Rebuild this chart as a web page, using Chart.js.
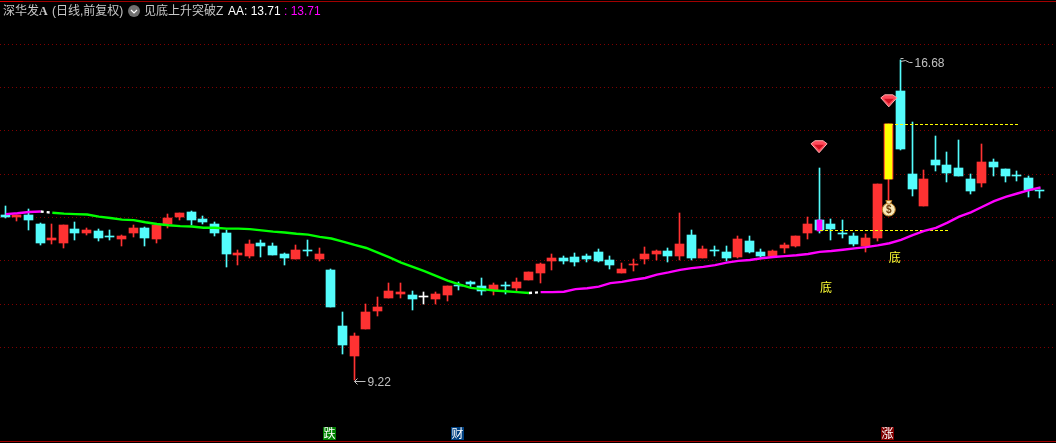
<!DOCTYPE html>
<html>
<head>
<meta charset="utf-8">
<title>深华发A</title>
<script src="https://cdn.jsdelivr.net/npm/chart.js@4"></script>
<style>
  html, body { margin: 0; padding: 0; background: #000; overflow: hidden; }
  #wrap { position: relative; width: 1056px; height: 443px; overflow: hidden; }
  #trendChart { position: absolute; left: 0; top: 0; }
  .head { position: absolute; top: 3px; font: 12px/16px "Liberation Sans", "Noto Sans CJK SC", sans-serif; color: #c8c8c8; white-space: nowrap; }
</style>
</head>
<body>
<div id="wrap">
  <canvas id="trendChart" width="1058" height="443"></canvas>
  <span class="head" style="left:3px">深华发</span>
  <span class="head" style="left:39px;font-weight:bold;font-family:'Liberation Serif'">A</span>
  <span class="head" style="left:52px">(日线,前复权)</span>
  <span class="head" style="left:144px">见底上升突破Z</span>
  <span class="head" style="left:228px;color:#fff">AA: 13.71</span>
  <span class="head" style="left:284px;color:#ff00ff">: 13.71</span>
</div>
<script>
// candles, one entry per trading day
const opens = [13.07, 13.02, 13.07, 12.86, 12.49, 12.42, 12.74, 12.65, 12.69, 12.58,
  12.51, 12.65, 12.77, 12.51, 12.86, 13.02, 13.14, 12.98, 12.86, 12.65,
  12.14, 12.11, 12.42, 12.35, 12.16, 12.04, 12.25, 12.04, 11.79, 10.48,
  9.78, 10.41, 10.83, 11.13, 11.23, 11.20, 11.15, 11.11, 11.20, 11.44,
  11.51, 11.41, 11.32, 11.44, 11.37, 11.55, 11.72, 12.00, 12.07, 12.09,
  12.11, 12.21, 12.02, 11.72, 11.90, 12.04, 12.16, 12.23, 12.11, 12.60,
  12.07, 12.24, 12.21, 12.09, 12.46, 12.21, 12.11, 12.30, 12.35, 12.65,
  12.95, 12.86, 12.65, 12.58, 12.35, 12.53, 13.91, 15.96, 14.02, 13.28,
  14.35, 14.23, 14.16, 13.91, 13.81, 14.30, 14.14, 14.00, 13.93, 13.65];
const closes = [13.02, 13.07, 12.95, 12.42, 12.53, 12.84, 12.65, 12.72, 12.53, 12.56,
  12.58, 12.77, 12.53, 12.84, 13.00, 13.11, 12.95, 12.91, 12.65, 12.16,
  12.18, 12.39, 12.35, 12.14, 12.07, 12.25, 12.23, 12.16, 10.92, 10.04,
  10.25, 10.81, 10.92, 11.30, 11.27, 11.11, 11.15, 11.23, 11.41, 11.41,
  11.46, 11.30, 11.44, 11.42, 11.51, 11.74, 11.93, 12.07, 12.00, 11.97,
  12.04, 12.00, 11.90, 11.81, 11.92, 12.16, 12.23, 12.11, 12.39, 12.07,
  12.28, 12.22, 12.07, 12.51, 12.21, 12.11, 12.23, 12.37, 12.58, 12.86,
  12.72, 12.74, 12.63, 12.39, 12.53, 13.79, 15.19, 14.61, 13.67, 13.91,
  14.23, 14.05, 13.98, 13.63, 14.30, 14.19, 13.98, 13.98, 13.65, 13.63];
const highs = [13.28, 13.07, 13.21, 12.88, 12.86, 12.84, 12.91, 12.77, 12.74, 12.72,
  12.60, 12.84, 12.79, 12.84, 13.09, 13.11, 13.16, 13.05, 12.91, 12.72,
  12.25, 12.49, 12.49, 12.42, 12.18, 12.37, 12.49, 12.30, 11.81, 10.81,
  10.32, 10.99, 11.16, 11.48, 11.48, 11.30, 11.27, 11.27, 11.41, 11.51,
  11.53, 11.60, 11.48, 11.51, 11.60, 11.74, 11.95, 12.16, 12.11, 12.18,
  12.16, 12.28, 12.11, 11.95, 12.04, 12.32, 12.25, 12.30, 13.11, 12.72,
  12.35, 12.35, 12.35, 12.58, 12.58, 12.28, 12.25, 12.42, 12.58, 13.02,
  14.16, 12.98, 12.95, 12.65, 12.63, 13.79, 15.19, 16.68, 15.24, 14.12,
  14.91, 14.54, 14.82, 14.02, 14.72, 14.37, 14.14, 14.09, 13.98, 13.65];
const lows = [13.00, 12.93, 12.72, 12.37, 12.39, 12.30, 12.49, 12.60, 12.46, 12.49,
  12.35, 12.56, 12.35, 12.42, 12.77, 12.95, 12.84, 12.86, 12.58, 11.86,
  11.90, 12.07, 12.09, 12.14, 11.90, 12.04, 12.11, 12.00, 10.92, 9.83,
  9.22, 10.41, 10.71, 11.13, 11.13, 10.85, 10.99, 10.99, 11.06, 11.32,
  11.39, 11.20, 11.20, 11.23, 11.27, 11.55, 11.48, 11.79, 11.93, 11.88,
  11.97, 11.97, 11.81, 11.72, 11.76, 11.93, 12.02, 11.97, 12.02, 12.02,
  12.07, 12.11, 12.00, 12.07, 12.18, 12.09, 12.11, 12.18, 12.32, 12.51,
  12.65, 12.49, 12.53, 12.35, 12.21, 12.46, 13.35, 14.58, 13.51, 13.28,
  14.09, 13.84, 13.98, 13.56, 13.72, 13.98, 13.84, 13.86, 13.49, 13.46];

// AA line
const maValues = [13.09, 13.11, 13.14, 13.15, 13.12, 13.10, 13.09, 13.08, 13.03, 13.00,
  12.96, 12.95, 12.90, 12.86, 12.83, 12.81, 12.80, 12.77, 12.77, 12.75,
  12.75, 12.74, 12.71, 12.68, 12.66, 12.63, 12.61, 12.56, 12.52, 12.45,
  12.37, 12.30, 12.19, 12.08, 11.96, 11.86, 11.76, 11.65, 11.54, 11.45,
  11.37, 11.34, 11.31, 11.29, 11.27, 11.25, 11.27, 11.27, 11.28, 11.34,
  11.36, 11.40, 11.48, 11.51, 11.56, 11.60, 11.68, 11.73, 11.79, 11.83,
  11.86, 11.90, 11.96, 12.00, 12.02, 12.06, 12.09, 12.11, 12.13, 12.16,
  12.21, 12.23, 12.26, 12.29, 12.32, 12.36, 12.41, 12.49, 12.60, 12.70,
  12.77, 12.89, 13.03, 13.13, 13.26, 13.39, 13.49, 13.57, 13.65, 13.71];

const gridPrices = [17.05, 16.03, 15.03, 14.02, 13.02, 12.00, 10.99, 9.99];
const dashHigh = [[76.05, 15.178], [87.15, 15.178]];
const dashLow = [[70.03, 12.707], [81.21, 12.707]];
const signalBars = [{ day: 70, from: 12.70, to: 12.95, color: "#ff00ff", width: 5 }, { day: 76, from: 13.91, to: 15.19, color: "#ffff00", width: 7 }];
const bottomWords = [{ day: 70, price: 11.37, dx: 7 }, { day: 76, price: 12.07, dx: 6 }];
const diamonds = [{ day: 70, price: 14.66 }, { day: 76, price: 15.73 }];
const moneyBag = { day: 76, price: 13.23 };
const tags = [{ day: 28, text: "跌", color: "#008000" }, { day: 39, text: "财", color: "#004080" }, { day: 76, text: "涨", color: "#800000" }];

const RED = "#ff3232";
const CYAN = "#54fcfc";
const labels = Array.from({ length: 91 }, (_, i) => i);
const X_SHIFT = 0.6; // bars sit a little left of the category centres

function candleColor(ctx) {
  const i = ctx.dataIndex;
  if (closes[i] > opens[i]) return RED;
  if (closes[i] < opens[i]) return CYAN;
  return "#ffffff";
}

// the line changes colour as the trend changes, white dashes at the turns
function maColor(ctx) {
  const i = ctx.p0DataIndex;
  if (i === 3 || i === 45) return "#ffffff";
  if (i < 3 || i > 45) return "#ff00ff";
  return "#00ff00";
}

function toPoints(pair) {
  return pair.map((p) => ({ x: p[0], y: p[1] }));
}

// keep the bars on whole pixels, otherwise the 1px wicks go blurry
const snapBars = {
  id: "snapBars",
  afterDatasetsUpdate(chart) {
    chart.data.datasets.forEach((ds, n) => {
      if (ds.type !== "bar") return;
      chart.getDatasetMeta(n).data.forEach((el) => {
        if (el.skip) return;
        el.x = Math.floor(el.x - X_SHIFT) + 0.5;
        el.y = Math.round(el.y);
        el.base = Math.round(el.base);
        if (el.base === el.y) el.base = el.y + 1;
      });
    });
  }
};

function drawDiamond(c, x, y) {
  c.save();
  c.translate(x, y);
  c.beginPath();
  c.moveTo(-8, -3);
  c.lineTo(-4, -6);
  c.lineTo(4, -6);
  c.lineTo(8, -3);
  c.lineTo(0, 6);
  c.closePath();
  c.fillStyle = "#ff4a5a";
  c.fill();
  c.strokeStyle = "#ffb0b0";
  c.lineWidth = 1;
  c.stroke();
  c.beginPath();
  c.moveTo(-5, -2);
  c.lineTo(5, -2);
  c.lineTo(0, 3);
  c.closePath();
  c.fillStyle = "#d01020";
  c.fill();
  c.restore();
}

function drawBag(c, x, y) {
  c.save();
  c.fillStyle = "#f8e8b8";
  c.strokeStyle = "#b87820";
  c.beginPath();
  c.arc(x, y + 1.5, 6.5, 0, Math.PI * 2);
  c.fill();
  c.stroke();
  c.beginPath();
  c.moveTo(x - 3, y - 7.5);
  c.lineTo(x + 3, y - 7.5);
  c.lineTo(x + 1.5, y - 4);
  c.lineTo(x - 1.5, y - 4);
  c.closePath();
  c.fill();
  c.stroke();
  c.fillStyle = "#704010";
  c.font = "bold 10px 'Liberation Sans'";
  c.textAlign = "center";
  c.textBaseline = "middle";
  c.fillText("$", x, y + 2);
  c.restore();
}

const marks = {
  id: "marks",
  afterDraw(chart) {
    const c = chart.ctx;
    const xs = chart.scales.x;
    const ys = chart.scales.y;
    const dayX = (i) => xs.getPixelForValue(i) - X_SHIFT;
    const cjk = "12px 'Noto Sans CJK SC'";
    c.save();

    // frame lines
    c.fillStyle = "#a00000";
    c.fillRect(0, 1, 1058, 1);
    c.fillRect(0, 441, 1058, 1);
    c.fillStyle = "#e00000";
    c.fillRect(0, 1, 23, 1);

    // round button in the title row
    c.fillStyle = "#707070";
    c.beginPath();
    c.arc(134, 11, 6, 0, Math.PI * 2);
    c.fill();
    c.strokeStyle = "#ffffff";
    c.lineWidth = 1.2;
    c.beginPath();
    c.moveTo(131, 10);
    c.lineTo(134, 13);
    c.lineTo(137, 10);
    c.stroke();

    // high and low notes
    c.fillStyle = "#c0c0c0";
    c.strokeStyle = "#c0c0c0";
    c.lineWidth = 1;
    c.font = "12px 'Liberation Sans'";
    c.textAlign = "left";
    c.textBaseline = "middle";
    const lowX = Math.floor(dayX(30)) + 0.5;
    const lowY = Math.round(ys.getPixelForValue(9.22)) + 1.5;
    c.beginPath();
    c.moveTo(lowX + 11, lowY);
    c.lineTo(lowX, lowY);
    c.moveTo(lowX + 3, lowY - 3);
    c.lineTo(lowX, lowY);
    c.lineTo(lowX + 3, lowY + 3);
    c.stroke();
    c.fillText("9.22", lowX + 13, lowY + 1);
    const highX = Math.floor(dayX(77)) + 0.5;
    const highY = Math.round(ys.getPixelForValue(16.68)) - 1.5;
    c.beginPath();
    c.moveTo(highX, highY);
    c.lineTo(highX + 3, highY);
    c.moveTo(highX, highY + 3);
    c.lineTo(highX + 5, highY + 2);
    c.lineTo(highX + 9, highY + 4);
    c.lineTo(highX + 12, highY + 4);
    c.stroke();
    c.fillText("16.68", highX + 14, highY + 5);

    // buy words
    c.fillStyle = "#ffff33";
    c.font = cjk;
    c.textAlign = "center";
    bottomWords.forEach((w) => {
      c.fillText("底", dayX(w.day) + w.dx, ys.getPixelForValue(w.price));
    });

    diamonds.forEach((d) => drawDiamond(c, dayX(d.day), ys.getPixelForValue(d.price)));
    drawBag(c, dayX(moneyBag.day), ys.getPixelForValue(moneyBag.price));

    // event tags on the bottom edge
    tags.forEach((t) => {
      const x = Math.floor(dayX(t.day)) - 7;
      c.fillStyle = t.color;
      c.fillRect(x, 427, 13, 13);
      c.fillStyle = "#ffffff";
      c.fillText(t.text, x + 6.5, 433.5);
    });
    c.restore();
  }
};

new Chart(document.getElementById("trendChart").getContext("2d"), {
  type: "bar",
  plugins: [snapBars, marks],
  data: {
    labels: labels,
    datasets: [
      {
        type: "line",
        label: "AA",
        order: 1,
        data: maValues,
        borderWidth: 2.4,
        pointRadius: 0,
        tension: 0,
        borderColor: "#ff00ff",
        segment: {
          borderColor: maColor,
          borderDash: (ctx) => (ctx.p0DataIndex === 3 || ctx.p0DataIndex === 45 ? [3, 3] : undefined)
        }
      },
      {
        type: "line",
        label: "top",
        order: 2,
        xAxisID: "x2",
        data: toPoints(dashHigh),
        borderColor: "#ffff00",
        borderWidth: 1,
        borderDash: [3, 2],
        pointRadius: 0
      },
      {
        type: "line",
        label: "bottom",
        order: 2,
        xAxisID: "x2",
        data: toPoints(dashLow),
        borderColor: "#ffff00",
        borderWidth: 1,
        borderDash: [3, 2],
        pointRadius: 0
      },
      ...signalBars.map((s, n) => ({
        type: "bar",
        label: "signal" + n,
        order: 3,
        grouped: false,
        barThickness: s.width,
        backgroundColor: s.color,
        data: labels.map((i) => (i === s.day ? [s.from, s.to] : null))
      })),
      {
        type: "bar",
        label: "body",
        order: 4,
        grouped: false,
        barThickness: 9,
        minBarLength: 1,
        backgroundColor: candleColor,
        data: opens.map((o, i) => [o, closes[i]])
      },
      {
        type: "bar",
        label: "wick",
        order: 5,
        grouped: false,
        barThickness: 1,
        backgroundColor: candleColor,
        data: lows.map((l, i) => [l, highs[i]])
      }
    ]
  },
  options: {
    responsive: false,
    animation: false,
    events: [],
    layout: { padding: 0 },
    plugins: { legend: { display: false }, tooltip: { enabled: false } },
    scales: {
      x: { type: "category", offset: true, display: false },
      x2: { type: "linear", offset: false, display: false, min: -0.5, max: 90.5 },
      y: {
        min: 7.754,
        max: 18.08,
        afterBuildTicks: (scale) => {
          scale.ticks = gridPrices.map((v) => ({ value: v }));
        },
        afterFit: (scale) => {
          scale.width = 0;
        },
        ticks: { display: false },
        border: { display: false, dash: [1, 3] },
        grid: { color: "#800000", drawTicks: false, lineWidth: 1 }
      }
    }
  }
});
</script>
</body>
</html>
